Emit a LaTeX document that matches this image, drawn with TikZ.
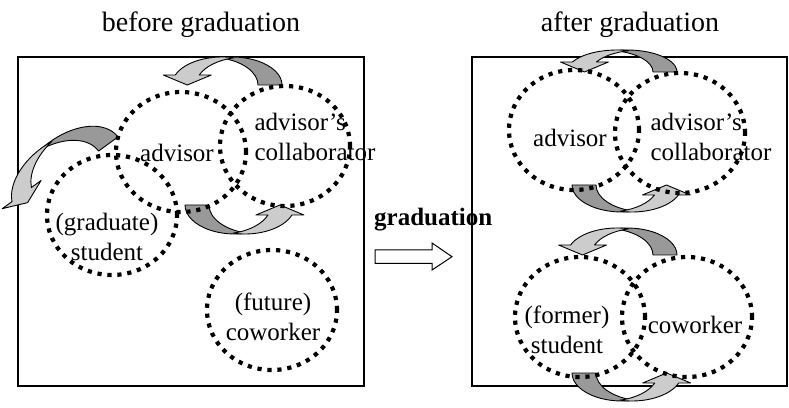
\documentclass[tikz,border=0pt]{standalone}
\usepackage{fontspec}
\setmainfont{Liberation Serif}
\usetikzlibrary{shapes.geometric}

\definecolor{bandDark}{gray}{0.6}
\definecolor{bandLight}{gray}{0.8}

% twisted block arrow, dark tail on the right, head on the left
% #1 = x radius, #2 = y radius (band width is 24)
\newcommand{\twistArrow}[2]{%
  \pgfmathsetmacro{\tMeet}{acos(12/#1)}%
  \pgfmathsetmacro{\tMeetB}{180-\tMeet}%
  \pgfmathsetmacro{\tHead}{180-asin(10/#2)}%
  \pgfmathsetmacro{\xHead}{#1*cos(\tHead)}%
  \pgfmathsetmacro{\yMeet}{#2*sin(\tMeet)}%
  \filldraw[band, fill=bandDark] (#1+5,0)
    arc[start angle=0, end angle=\tMeetB, x radius=#1, y radius=#2]
    arc[start angle=\tMeet, end angle=0, x radius=#1, y radius=#2] -- cycle;
  \filldraw[band, fill=bandLight] (7,\yMeet)
    arc[start angle=\tMeet, end angle=\tHead, x radius=#1, y radius=#2]
    -- (\xHead-17,10) -- (\xHead+7,0) -- (\xHead+31,10) -- (\xHead+19,10)
    arc[start angle=\tHead, end angle=\tMeetB, x radius=#1, y radius=#2] -- cycle;
}

\begin{document}
\begin{tikzpicture}[x=1pt, y=1pt,
    ring/.style={ellipse, draw, minimum width=130pt, minimum height=120pt, inner sep=0pt,
      line width=4.2pt, dash pattern=on 4.2pt off 5.8pt},
    tag/.style={font=\fontsize{25}{30}\selectfont, align=center, inner sep=0pt},
    heading/.style={font=\fontsize{28}{32}\selectfont, inner sep=0pt},
    frame/.style={draw, line width=1.2pt},
    band/.style={draw=black, line width=0.9pt, line join=round}
  ]
  \useasboundingbox (0,0) rectangle (789,407);

  % titles
  \node[heading, anchor=base] (before) at (201,375) {before graduation};
  \node[heading, anchor=base] (after) at (630,375) {after graduation};

  % frames
  \draw[frame] (18,21) rectangle (364,350);
  \draw[frame] (472,21) rectangle (787,350);

  % the step in between
  \node[font=\fontsize{25}{30}\selectfont\bfseries, anchor=base west, inner sep=0pt] (step) at (374,181) {graduation};
  \filldraw[fill=white, line width=1pt] (375,157) -- (432,157) -- (432,164) -- (452,150.3)
    -- (432,137) -- (432,143.7) -- (375,143.7) -- cycle;

  % exchange arrows, before
  \begin{scope}[shift={(227,322)}] \twistArrow{50}{28} \end{scope}
  \begin{scope}[shift={(240,202)}, rotate=180] \twistArrow{50}{29} \end{scope}
  \begin{scope}[shift={(67,233)}, rotate=36] \twistArrow{58}{36} \end{scope}

  % exchange arrows, after
  \begin{scope}[shift={(622,335)}] \twistArrow{50}{22} \end{scope}
  \begin{scope}[shift={(627,222)}, rotate=180] \twistArrow{50}{27} \end{scope}
  \begin{scope}[shift={(622,152)}] \twistArrow{50}{27} \end{scope}
  \begin{scope}[shift={(627,34)}, rotate=180] \twistArrow{50}{28} \end{scope}

  % people, before
  \node[ring] (advisorL) at (181,255) {};
  \node[ring] (collabL) at (285,261) {};
  \node[ring] (studentL) at (112,192) {};
  \node[ring] (coworkerL) at (272,97) {};
  \node[tag] (advisorLtxt) at ([shift={(-4,-1)}]advisorL.center) {advisor};
  \node[tag, align=left] (collabLtxt) at ([shift={(30,9)}]collabL.center) {advisor’s\\collaborator};
  \node[tag] (studentLtxt) at ([shift={(-5,-22)}]studentL.center) {(graduate)\\student};
  \node[tag] (coworkerLtxt) at ([shift={(1,-7)}]coworkerL.center) {(future)\\coworker};

  % people, after
  \node[ring] (advisorR) at (574,277) {};
  \node[ring] (collabR) at (680,274) {};
  \node[ring] (studentR) at (580,90) {};
  \node[ring] (coworkerR) at (687,90) {};
  \node[tag] (advisorRtxt) at ([shift={(-4,-8)}]advisorR.center) {advisor};
  \node[tag, align=left] (collabRtxt) at ([shift={(31,-4)}]collabR.center) {advisor’s\\collaborator};
  \node[tag] (studentRtxt) at ([shift={(-13,-13)}]studentR.center) {(former)\\student};
  \node[tag] (coworkerRtxt) at ([shift={(8,-8)}]coworkerR.center) {coworker};
\end{tikzpicture}
\end{document}
